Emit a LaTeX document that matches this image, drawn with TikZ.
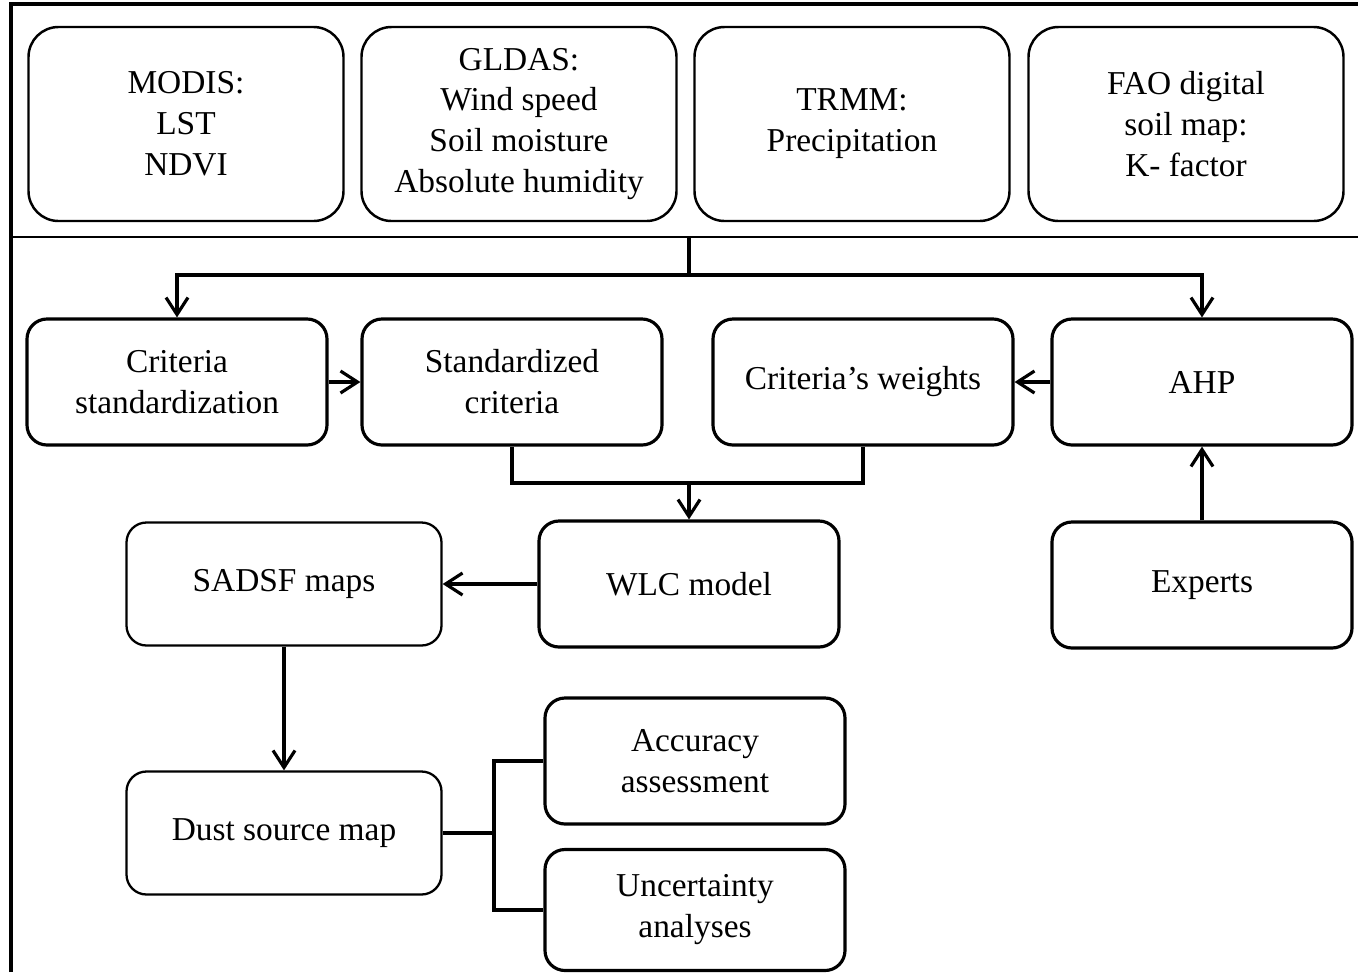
\documentclass[tikz,border=0pt]{standalone}
\usepackage{fontspec}
\setmainfont{Liberation Serif}
\usetikzlibrary{arrows.meta}

\begin{document}
\begin{tikzpicture}[x=0.2mm,y=-0.2mm]
\useasboundingbox (0,0) rectangle (1358,972);
\tikzstyle{every node}=[align=center, font=\fontsize{19}{23.3}\selectfont];
\tikzstyle{src}=[draw, line width=1.4pt, rounded corners=0.6cm, minimum width=6.3cm, minimum height=3.88cm];
\tikzstyle{box}=[draw, line width=1.8pt, rounded corners=0.4cm, minimum width=6cm, minimum height=2.52cm];
\tikzstyle{wide}=[box, line width=1.3pt, minimum width=6.3cm, minimum height=2.46cm];
\tikzstyle{link}=[line width=1.8pt];
\tikzstyle{flow}=[link, -{Straight Barb[length=3.4mm,width=4.4mm]}];

% frame
\draw[line width=2.4pt] (11,972) -- (11,4) -- (1358,4);
\draw[line width=1.5pt] (11,237) -- (1358,237);

% data sources
\draw (186,124) node[src] (modis) {MODIS:\\LST\\NDVI};
\draw (519,124) node[src] (gldas) {GLDAS:\\Wind speed\\Soil moisture\\Absolute humidity};
\draw (852,124) node[src] (trmm) {TRMM:\\Precipitation};
\draw (1186,124) node[src] (fao) {FAO digital\\soil map:\\K- factor};

% criteria and weights
\draw (177,382) node[box] (stdz) {Criteria\\standardization};
\draw (512,382) node[box] (stdc) {Standardized\\criteria};
\draw (863,382) node[box] (wts) {Criteria’s weights};
\draw (1202,382) node[box] (ahp) {AHP};

\draw (284,584) node[wide] (sadsf) {SADSF maps};
\draw (689,584) node[box] (wlc) {WLC model};
\draw (1202,585) node[box] (exp) {Experts};

\draw (284,833) node[wide] (dust) {Dust source map};
\draw (695,761) node[box] (acc) {Accuracy\\assessment};
\draw (695,910) node[box, minimum height=2.42cm] (unc) {Uncertainty\\analyses};

\coordinate (split) at (689,237);
\coordinate (hub) at (689,275);
\coordinate (join) at (689,483);
\coordinate (fork) at (494,833);

\draw[link] (split) -- (hub);
\draw[flow] (hub) -| (stdz.north);
\draw[flow] (hub) -| (ahp.north);
\draw[flow] (stdz) -- (stdc);
\draw[flow] (ahp) -- (wts);
\draw[link] (stdc.south) |- (join) -| (wts.south);
\draw[flow] (join) -- (wlc.north);
\draw[flow] (wlc) -- (sadsf);
\draw[flow] (exp) -- (ahp);
\draw[flow] (sadsf) -- (dust);
\draw[link] (dust) -- (fork);
\draw[link] (acc.west) -| (fork) |- (unc.west);
\end{tikzpicture}
\end{document}
